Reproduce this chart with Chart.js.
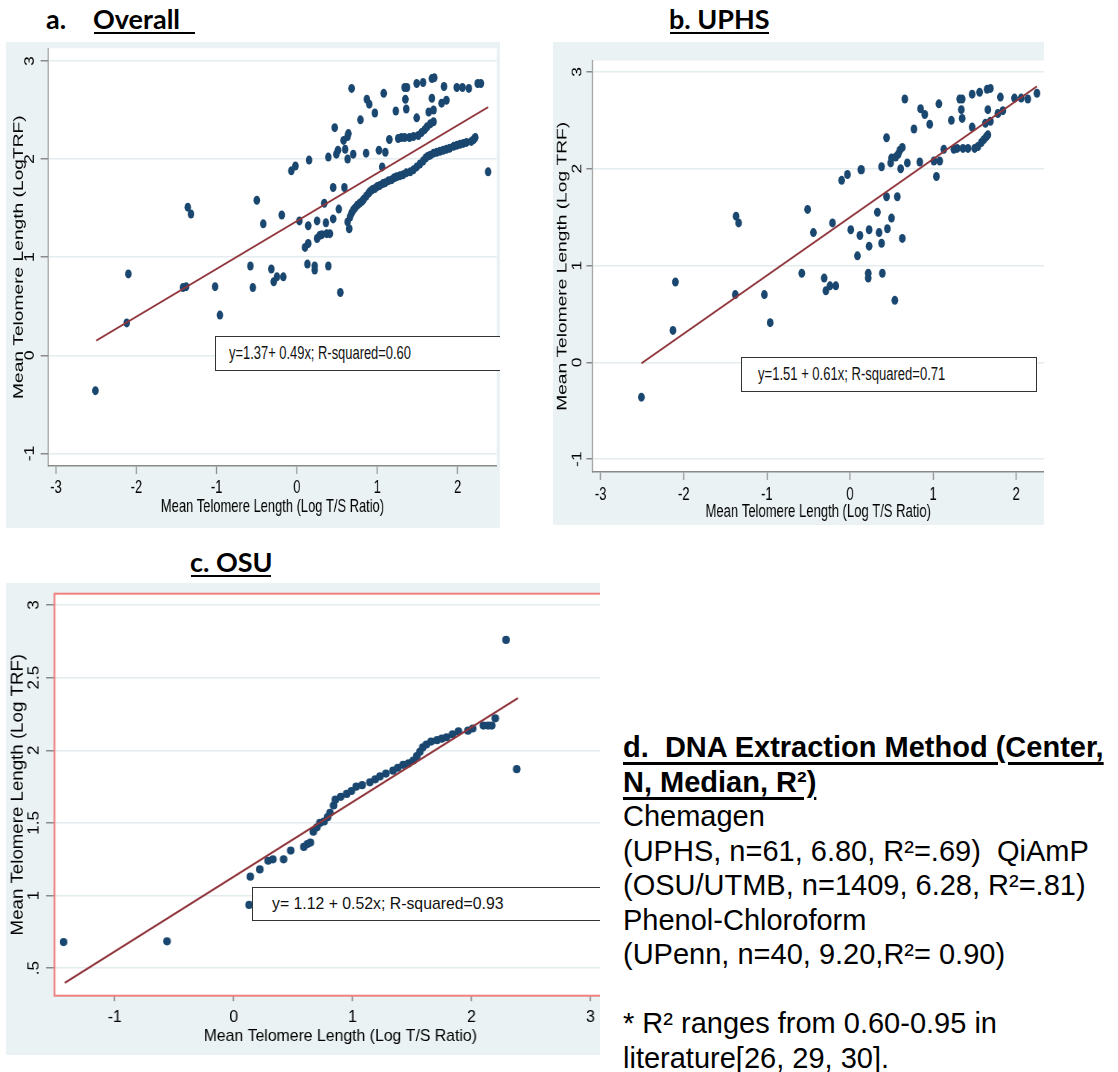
<!DOCTYPE html>
<html><head><meta charset="utf-8">
<script src="https://cdn.jsdelivr.net/npm/chart.js@4.4.1/dist/chart.umd.min.js"></script>
<style>
html,body{margin:0;padding:0;background:#fff;}
body{width:1118px;height:1072px;overflow:hidden;position:relative;font-family:'Liberation Sans',Arial,sans-serif;}
.panel{position:absolute;background:#eaf2f3;overflow:hidden;}
.panel canvas{position:absolute;left:0;top:0;}
.ttl{position:absolute;font-family:Lato,'Open Sans',sans-serif;font-weight:700;font-size:27px;line-height:27px;color:#000;white-space:pre;}
.uline{position:absolute;height:2px;background:#000;}
.eq{position:absolute;background:#fff;border:1.3px solid #333;box-sizing:border-box;}
.eq span{position:absolute;top:0;white-space:nowrap;transform-origin:0 50%;color:#111;font-family:'Liberation Sans',Arial,sans-serif;}
.d{position:absolute;left:623px;top:730px;font-size:29px;line-height:34.5px;white-space:pre;color:#000;font-family:'Liberation Sans',Arial,sans-serif;}
.d .h{font-weight:700;text-decoration:underline;text-decoration-thickness:2.5px;text-underline-offset:5px;}
</style></head><body>

<div class="ttl" style="left:46px;top:5px">a.</div>
<div class="ttl" style="left:93px;top:5px">Overall</div>
<div class="uline" style="left:94px;top:32px;width:101px"></div>
<div class="ttl" style="left:669px;top:5px">b. UPHS</div>
<div class="uline" style="left:670px;top:32px;width:99px"></div>
<div class="ttl" style="left:190px;top:548px">c. OSU</div>
<div class="uline" style="left:191px;top:575px;width:80px"></div>

<div class="panel" style="left:6px;top:42px;width:494px;height:486px"><canvas id="ca"></canvas></div>
<div class="panel" style="left:553px;top:42px;width:491px;height:483px"><canvas id="cb"></canvas></div>
<div class="panel" style="left:6px;top:583px;width:594px;height:472px"><canvas id="cc"></canvas></div>

<div class="eq" style="left:215px;top:336px;width:285px;height:35px;border-right:none"><span style="left:13px;line-height:33px;font-size:17.7px;transform:scaleX(0.73)">y=1.37+ 0.49x; R-squared=0.60</span></div>
<div class="eq" style="left:741px;top:357px;width:296px;height:35px"><span style="left:15.5px;line-height:33px;font-size:17.5px;transform:scaleX(0.745)">y=1.51 + 0.61x; R-squared=0.71</span></div>
<div class="eq" style="left:252px;top:887px;width:348px;height:34px;border-right:none"><span style="left:18.5px;line-height:32px;font-size:17px;transform:scaleX(0.93)">y= 1.12 + 0.52x; R-squared=0.93</span></div>

<div class="d"><span class="h">d.  DNA Extraction Method (Center,</span>
<span class="h">N, Median, R²)</span>
Chemagen
(UPHS, n=61, 6.80, R²=.69)  QiAmP
(OSU/UTMB, n=1409, 6.28, R²=.81)
Phenol-Chloroform
(UPenn, n=40, 9.20,R²= 0.90)

* R² ranges from 0.60-0.95 in
literature[26, 29, 30].</div>

<script>
// ---------- Panel a: Overall ----------
const aX = [
-2.51,-2.12,-2.10,-1.42,-1.38,-1.36,-1.32,-1.02,-0.96,-0.58,
-0.55,-0.50,-0.42,-0.32,-0.29,-0.25,-0.19,-0.17,-0.07,-0.02,
0.03,0.10,0.13,0.14,0.14,0.15,0.22,0.22,0.25,0.25,
0.28,0.31,0.34,0.36,0.37,0.39,0.39,0.41,0.45,0.45,
0.47,0.49,0.51,0.52,0.54,0.59,0.58,0.60,0.63,0.64,
0.63,0.63,0.65,0.68,0.70,0.79,0.86,0.87,0.90,0.97,
1.02,1.06,1.08,1.10,1.15,1.23,1.26,1.30,1.34,1.40,
1.45,1.51,1.34,1.37,1.35,1.36,1.49,1.49,1.57,1.55,
1.59,1.62,1.66,1.70,1.64,1.70,1.68,1.71,1.68,1.80,
1.86,1.83,1.99,2.06,2.14,2.25,2.29,2.38,
0.66,0.68,0.70,0.72,0.75,0.78,0.81,0.83,0.86,0.89,
0.91,0.94,0.97,1.00,1.03,1.07,1.10,1.14,1.18,1.21,
1.24,1.28,1.32,1.36,1.41,1.45,1.49,1.53,1.57,1.60,
1.63,1.66,1.70,1.74,1.78,1.82,1.86,1.90,1.95,1.99,
2.03,2.07,2.11,2.17,2.20,2.22];
const aY = [
-0.36,0.33,0.83,0.69,0.70,1.51,1.44,0.70,0.41,0.91,
0.69,1.58,1.34,0.88,0.75,0.80,1.43,0.80,1.88,1.93,
1.37,1.10,0.93,1.14,1.32,1.99,0.91,0.87,1.37,1.19,
1.22,1.23,1.55,1.35,1.24,0.91,2.02,1.24,1.71,1.39,
2.32,2.05,2.09,1.49,0.64,1.71,2.19,2.10,2.00,2.26,
2.23,1.36,1.29,2.72,2.05,2.40,2.06,2.61,2.56,2.47,
2.09,1.92,2.67,2.07,2.20,2.49,2.21,2.22,2.22,2.22,
2.23,2.24,2.73,2.73,2.61,2.51,2.42,2.77,2.78,2.27,
2.30,2.33,2.36,2.38,2.48,2.50,2.82,2.83,2.62,2.57,
2.60,2.74,2.73,2.73,2.72,2.77,2.77,1.87,
1.41,1.45,1.48,1.50,1.53,1.55,1.57,1.59,1.62,1.65,
1.67,1.69,1.70,1.72,1.73,1.75,1.76,1.78,1.79,1.81,
1.82,1.83,1.84,1.86,1.87,1.89,1.92,1.95,1.98,2.01,
2.03,2.04,2.06,2.07,2.08,2.09,2.10,2.11,2.13,2.14,
2.15,2.16,2.17,2.18,2.20,2.22];
const aFitX = [-2.50, 2.38];
const aFitY = [0.15, 2.53];
const aXTicks = [-3,-2,-1,0,1,2];
const aYTicks = [-1,0,1,2,3];
const aYLabels = ['-1','0','1','2','3'];

// ---------- Panel b: UPHS ----------
const bX = [
-2.51,-2.13,-2.10,-1.38,-1.37,-1.34,-1.03,-0.96,-0.58,-0.51,
-0.44,-0.31,-0.29,-0.24,-0.17,-0.21,-0.10,-0.03,0.01,0.09,
0.12,0.13,0.14,0.22,0.22,0.23,0.23,0.33,0.35,0.38,
0.38,0.39,0.44,0.44,0.45,0.49,0.50,0.50,0.54,0.57,
0.55,0.58,0.60,0.63,0.61,0.63,0.66,0.69,0.77,0.85,
0.90,0.84,0.96,1.01,1.08,1.04,1.07,1.13,1.22,1.25,
1.29,1.36,1.42,1.50,1.32,1.35,1.34,1.35,1.47,1.47,
1.56,1.54,1.58,1.61,1.64,1.66,1.63,1.69,1.65,1.69,
1.66,1.78,1.84,1.81,1.98,2.06,2.14,2.25];
const bY = [
-0.36,0.33,0.83,0.70,1.51,1.44,0.70,0.41,0.92,1.58,
1.34,0.87,0.74,0.79,0.79,1.44,1.88,1.94,1.37,1.10,
1.31,1.99,1.99,0.92,0.87,1.37,1.20,1.55,1.34,1.23,
2.02,0.92,2.32,1.71,1.38,2.06,2.11,1.49,0.64,1.71,
2.12,2.15,2.19,2.22,2.00,1.28,2.72,2.06,2.41,2.62,
2.56,2.07,2.46,2.08,2.08,1.92,2.67,2.20,2.50,2.20,
2.21,2.21,2.21,2.21,2.72,2.72,2.61,2.52,2.43,2.77,
2.79,2.23,2.27,2.30,2.33,2.35,2.47,2.49,2.82,2.83,
2.61,2.57,2.60,2.74,2.73,2.73,2.72,2.78];
const bFitX = [-2.51, 2.25];
const bFitY = [-0.01, 2.85];
const bXTicks = [-3,-2,-1,0,1,2];
const bYTicks = [-1,0,1,2,3];
const bYLabels = ['-1','0','1','2','3'];

// ---------- Panel c: OSU ----------
const cX = [
-1.43,-0.56,0.13,0.14,0.22,0.29,0.33,0.42,0.48,0.59,
0.62,0.645,0.67,0.70,0.725,0.76,0.79,0.81,0.84,0.855,
0.90,0.95,0.99,1.03,1.08,1.145,1.19,1.23,1.28,1.34,
1.38,1.425,1.47,1.51,1.54,1.566,1.59,1.62,1.66,1.71,
1.75,1.79,1.84,1.89,1.97,2.01,2.10,2.14,2.17,2.20,
2.29,2.38];
const cY = [
0.68,0.685,0.936,1.13,1.18,1.24,1.25,1.25,1.31,1.335,
1.355,1.365,1.44,1.47,1.50,1.51,1.54,1.57,1.62,1.66,
1.68,1.70,1.72,1.75,1.76,1.78,1.80,1.82,1.84,1.86,
1.88,1.90,1.91,1.93,1.96,1.99,2.02,2.04,2.06,2.07,
2.08,2.09,2.11,2.13,2.135,2.15,2.17,2.17,2.17,2.22,
2.76,1.87];
const cFitX = [-1.42, 2.39];
const cFitY = [0.40, 2.36];
const cXTicks = [-1,0,1,2,3];
const cYTicks = [0.5,1,1.5,2,2.5,3];
const cYLabels = ['.5','1','1.5','2','2.5','3'];

const FONT = "'Liberation Sans', Arial, sans-serif";
const NAVY = '#1a476f', MAROON = '#90353b', AXIS = '#8a8a8a', GRID = '#e3ecee';

const plotBg = {
  id: 'plotBg',
  beforeDraw(chart) {
    const {ctx, chartArea: a} = chart;
    ctx.save(); ctx.fillStyle = '#fff';
    ctx.fillRect(a.left, a.top, a.right - a.left, a.bottom - a.top);
    ctx.restore();
  }
};
const redFrame = {
  id: 'redFrame',
  beforeDatasetsDraw(chart, args, opts) {
    if (!opts || !opts.on) return;
    const {ctx, chartArea: a} = chart;
    ctx.save(); ctx.strokeStyle = '#f07f7f'; ctx.lineWidth = 2;
    ctx.strokeRect(a.left, a.top, a.right - a.left, a.bottom - a.top);
    ctx.restore();
  }
};

function build(id, xs, ys, fx, fy, xt, yt, yl, g) {
  const cv = document.getElementById(id);
  const iw = Math.round(g.dw / g.k);
  cv.width = iw; cv.height = g.h;
  cv.style.width = g.dw + 'px'; cv.style.height = g.h + 'px';
  const pts = xs.map((x, i) => ({x: x, y: ys[i]}));
  const fit = fx.map((x, i) => ({x: x, y: fy[i]}));
  return new Chart(cv, {
    type: 'scatter',
    data: {datasets: [
      {type: 'line', data: fit, borderColor: MAROON, borderWidth: 2, pointRadius: 0, fill: false, showLine: true, tension: 0},
      {data: pts, pointBackgroundColor: NAVY, backgroundColor: NAVY, pointBorderWidth: 0, borderWidth: 0, pointRadius: g.r, pointHoverRadius: g.r}
    ]},
    options: {
      responsive: false, devicePixelRatio: 1, animation: false, events: [],
      layout: {padding: {left: 0, top: g.padTop, right: g.padRight, bottom: 0}, autoPadding: false},
      plugins: {legend: {display: false}, tooltip: {enabled: false}, redFrame: {on: !!g.frame}},
      scales: {
        x: {
          type: 'linear', min: g.xmin, max: g.xmax,
          afterBuildTicks: s => { s.ticks = xt.map(v => ({value: v})); },
          afterFit: s => { s.height = g.xh; s.paddingLeft = 0; s.paddingRight = 0; },
          ticks: {color: '#000', font: {family: FONT, size: g.fs}, padding: g.xtp, minRotation: 0, maxRotation: 0, autoSkip: false,
                  callback: v => String(v)},
          grid: {drawOnChartArea: false, drawTicks: true, tickLength: g.xtl, tickColor: AXIS, tickWidth: 1.5},
          border: {display: !g.frame, color: AXIS, width: 1.5},
          title: {display: true, text: 'Mean Telomere Length (Log T/S Ratio)', color: '#000', font: {family: FONT, size: g.fs},
                  padding: {top: 0, bottom: g.xtitlePad}}
        },
        y: {
          type: 'linear', min: g.ymin, max: g.ymax,
          afterBuildTicks: s => { s.ticks = yt.map(v => ({value: v})); },
          afterFit: s => { s.width = g.yw; s.paddingTop = 0; s.paddingBottom = 0; },
          ticks: {color: '#000', font: {family: FONT, size: g.fs}, padding: g.ytp, minRotation: 90, maxRotation: 90, autoSkip: false,
                  crossAlign: 'center', callback: v => yl[yt.indexOf(v)]},
          grid: {drawOnChartArea: true, color: GRID, lineWidth: 1.5, drawTicks: true, tickLength: g.ytl, tickColor: AXIS, tickWidth: 1.5},
          border: {display: !g.frame, color: AXIS, width: 1.5},
          title: {display: true, text: g.yTitle, color: '#000', font: {family: FONT, size: g.yfs},
                  padding: {top: g.ytitlePad, bottom: 0}}
        }
      }
    },
    plugins: [plotBg, redFrame]
  });
}

build('ca', aX, aY, aFitX, aFitY, aXTicks, aYTicks, aYLabels, {
  dw: 494, h: 486, k: 0.73, r: 4.5,
  xmin: -3.097, xmax: 2.487, ymin: -1.128, ymax: 3.129,
  padTop: 6.3, padRight: 4.5, xh: 62, yw: 57.9,
  fs: 17.7, yfs: 19.2, xtl: 8, xtp: 3.7, xtitlePad: 9.9, ytl: 10.4, ytp: 6.7, ytitlePad: 5.9,
  yTitle: 'Mean Telomere Length (LogTRF)'
});
build('cb', bX, bY, bFitX, bFitY, bXTicks, bYTicks, bYLabels, {
  dw: 491, h: 483, k: 0.745, r: 4.5,
  xmin: -3.098, xmax: 2.335, ymin: -1.133, ymax: 3.116,
  padTop: 18.7, padRight: 0, xh: 53, yw: 53.0,
  fs: 17.5, yfs: 19.2, xtl: 8, xtp: 4.4, xtitlePad: 1.9, ytl: 8.3, ytp: 3.3, ytitlePad: 1.3,
  yTitle: 'Mean Telomere Length (Log TRF)'
});
build('cc', cX, cY, cFitX, cFitY, cXTicks, cYTicks, cYLabels, {
  dw: 620, h: 472, k: 0.93, r: 4.1, frame: true,
  xmin: -1.506, xmax: 3.299, ymin: 0.311, ymax: 3.078,
  padTop: 10.7, padRight: 0, xh: 59.3, yw: 52.2,
  fs: 17, yfs: 18.7, xtl: 5.5, xtp: 6.1, xtitlePad: 8.1, ytl: 9.1, ytp: 0.7, ytitlePad: 1.3,
  yTitle: 'Mean Telomere Length (Log TRF)'
});
</script>
</body></html>
